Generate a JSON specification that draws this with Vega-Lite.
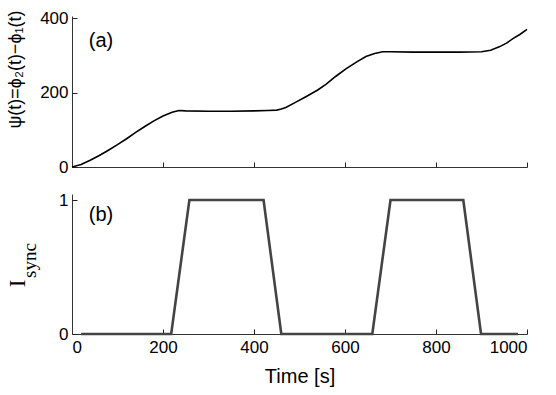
{
  "$schema": "https://vega.github.io/schema/vega-lite/v6.json",
  "background": "white",
  "padding": {"left": 6, "top": 9, "right": 5, "bottom": 5},
  "config": {
    "view": {"stroke": null},
    "font": "Liberation Sans",
    "axis": {
      "grid": false,
      "domainColor": "#333333",
      "domainWidth": 1,
      "tickColor": "#222222",
      "tickWidth": 1,
      "labelColor": "#000000",
      "titleColor": "#000000",
      "labelFont": "Liberation Sans",
      "labelFontSize": 17,
      "titleFont": "Liberation Sans",
      "titleFontWeight": "normal",
      "format": "d"
    }
  },
  "datasets": {
    "psi": [
      {"t": 0, "psi": 0}, {"t": 20, "psi": 7}, {"t": 40, "psi": 18}, {"t": 60, "psi": 31},
      {"t": 80, "psi": 45}, {"t": 100, "psi": 60}, {"t": 120, "psi": 76}, {"t": 140, "psi": 93},
      {"t": 160, "psi": 109}, {"t": 180, "psi": 124}, {"t": 200, "psi": 137}, {"t": 220, "psi": 147},
      {"t": 235, "psi": 152}, {"t": 250, "psi": 151}, {"t": 300, "psi": 150}, {"t": 350, "psi": 150},
      {"t": 400, "psi": 151}, {"t": 430, "psi": 152}, {"t": 450, "psi": 153}, {"t": 460, "psi": 156},
      {"t": 470, "psi": 160}, {"t": 490, "psi": 173}, {"t": 514, "psi": 189}, {"t": 540, "psi": 207},
      {"t": 558, "psi": 222}, {"t": 580, "psi": 244}, {"t": 602, "psi": 264}, {"t": 625, "psi": 282},
      {"t": 646, "psi": 297}, {"t": 665, "psi": 305}, {"t": 683, "psi": 310}, {"t": 700, "psi": 310},
      {"t": 750, "psi": 309}, {"t": 800, "psi": 309}, {"t": 850, "psi": 309}, {"t": 900, "psi": 310},
      {"t": 920, "psi": 314}, {"t": 939, "psi": 323}, {"t": 955, "psi": 333}, {"t": 969, "psi": 345},
      {"t": 985, "psi": 357}, {"t": 1000, "psi": 370}
    ],
    "sync": [
      {"t": 20, "s": 0}, {"t": 218, "s": 0}, {"t": 258, "s": 1}, {"t": 421, "s": 1},
      {"t": 460, "s": 0}, {"t": 660, "s": 0}, {"t": 700, "s": 1}, {"t": 860, "s": 1},
      {"t": 899, "s": 0}, {"t": 980, "s": 0}
    ],
    "labelA": [{"t": 37, "v": 339, "label": "(a)"}],
    "labelB": [{"t": 37, "v": 0.89, "label": "(b)"}]
  },
  "spacing": 16,
  "vconcat": [
    {
      "width": 455,
      "height": 151,
      "layer": [
        {
          "data": {"name": "psi"},
          "mark": {"type": "line", "color": "#000000", "strokeWidth": 1.6},
          "encoding": {
            "x": {"field": "t", "type": "quantitative", "scale": {"domain": [0, 1000], "nice": false},
                  "axis": {"labels": false, "title": null, "values": [0, 200, 400, 600, 800, 1000], "tickSize": -5}},
            "y": {"field": "psi", "type": "quantitative", "scale": {"domain": [0, 406], "nice": false},
                  "axis": {"values": [0, 200, 400], "labelPadding": 9, "tickSize": -5,
                           "title": "ψ(t)=ϕ₂(t)−ϕ₁(t)", "titleFontSize": 18,
                           "titleX": -52, "titleY": 53, "titleAlign": "center",
                           "titleBaseline": "alphabetic", "titleAngle": -90}}
          }
        },
        {
          "data": {"name": "labelA"},
          "mark": {"type": "text", "fontSize": 20, "align": "left", "baseline": "middle", "font": "Liberation Sans"},
          "encoding": {
            "x": {"field": "t", "type": "quantitative"},
            "y": {"field": "v", "type": "quantitative"},
            "text": {"field": "label"}
          }
        }
      ]
    },
    {
      "width": 455,
      "height": 140,
      "layer": [
        {
          "data": {"name": "sync"},
          "mark": {"type": "line", "color": "#444444", "strokeWidth": 2.6},
          "encoding": {
            "x": {"field": "t", "type": "quantitative", "scale": {"domain": [0, 1000], "nice": false},
                  "axis": {"values": [0, 200, 400, 600, 800, 1000], "labelPadding": 10, "tickSize": -5,
                           "title": "Time [s]", "titleFontSize": 20, "titleY": 48,
                           "titleBaseline": "alphabetic"}},
            "y": {"field": "s", "type": "quantitative", "scale": {"domain": [0, 1.045], "nice": false},
                  "axis": {"values": [0, 1], "labelPadding": 9, "tickSize": -5,
                           "title": "I", "titleFont": "Liberation Serif", "titleFontSize": 23,
                           "titleX": -48, "titleY": 89, "titleAlign": "center",
                           "titleBaseline": "alphabetic", "titleAngle": -90}}
          }
        },
        {
          "data": {"name": "labelB"},
          "mark": {"type": "text", "fontSize": 20, "align": "left", "baseline": "middle", "font": "Liberation Sans"},
          "encoding": {
            "x": {"field": "t", "type": "quantitative"},
            "y": {"field": "v", "type": "quantitative", "scale": {"domain": [0, 1.045], "nice": false},
                  "axis": {"orient": "left", "labels": false, "ticks": false, "domain": false,
                           "title": "sync", "titleFont": "Liberation Serif", "titleFontSize": 19,
                           "titleX": -36.5, "titleY": 66, "titleAlign": "center",
                           "titleBaseline": "alphabetic", "titleAngle": -90}},
            "text": {"field": "label"}
          }
        }
      ],
      "resolve": {"scale": {"y": "independent"}, "axis": {"y": "independent"}}
    }
  ]
}
